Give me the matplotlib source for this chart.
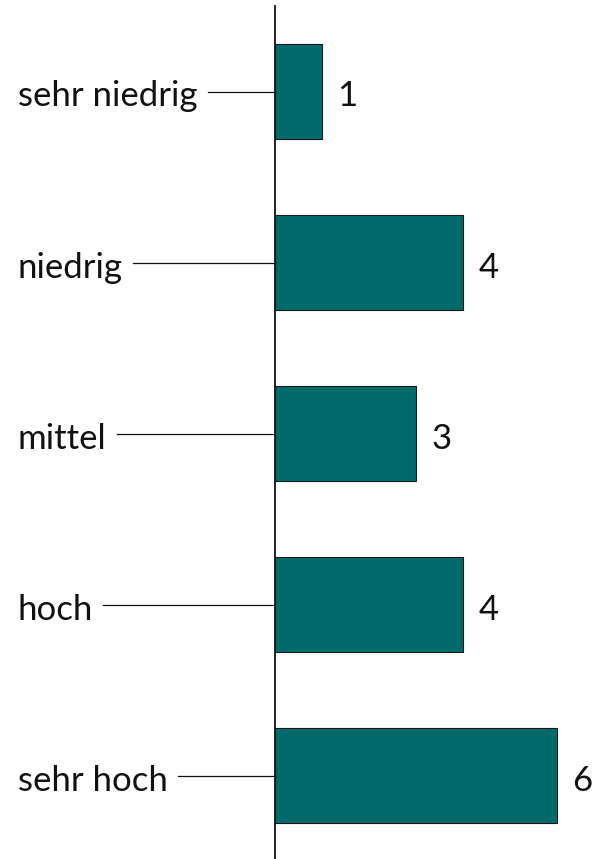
import matplotlib
matplotlib.use("Agg")
import matplotlib.pyplot as plt
from matplotlib.transforms import blended_transform_factory, offset_copy

categories = ["sehr niedrig", "niedrig", "mittel", "hoch", "sehr hoch"]
values = [1, 4, 3, 4, 6]

W, H = 595, 859
fig = plt.figure(figsize=(W / 100, H / 100), dpi=100)
plt.rcParams['font.family'] = ['Lato', 'DejaVu Sans']

ax_left, ax_right = 275, 595
ax_top, ax_bottom = 6, 859
ax = fig.add_axes([ax_left / W, 1 - ax_bottom / H, (ax_right - ax_left) / W, (ax_bottom - ax_top) / H])
ax.set_xlim(0, (ax_right - ax_left) / 47)
ax.set_ylim(-0.5 + (ax_bottom - ax_top) / 171, -0.5)

color = "#016B6B"
ypos = list(range(len(categories)))
ax.barh(ypos, values, height=95 / 171, color=color, edgecolor="#1a1a1a", linewidth=0.8, zorder=2)

for s in ["top", "right", "bottom"]:
    ax.spines[s].set_visible(False)
ax.spines["left"].set_linewidth(1.3)
ax.spines["left"].set_color("#111111")
ax.set_xticks([])
ax.set_yticks([])

fs = 25
for y, v in zip(ypos, values):
    ax.annotate(str(v), xy=(v, y), xytext=(11, -10.8), textcoords="offset points",
                ha="left", va="baseline", fontsize=fs, color="#111111")

fig.canvas.draw()
renderer = fig.canvas.get_renderer()
trans = blended_transform_factory(fig.transFigure, ax.transData)
ttrans = offset_copy(trans, fig=fig, x=0, y=-10.8, units="points")
for y, c in zip(ypos, categories):
    t = fig.text(18 / W, y, c, ha="left", va="baseline", fontsize=fs, color="#111111",
                 transform=ttrans)
    bb = t.get_window_extent(renderer)
    x0 = (bb.x1 + 10) / W
    fig.add_artist(plt.Line2D([x0, ax_left / W], [y, y], transform=trans, color="#111111", linewidth=0.9))

fig.savefig("out.png", dpi=100)
